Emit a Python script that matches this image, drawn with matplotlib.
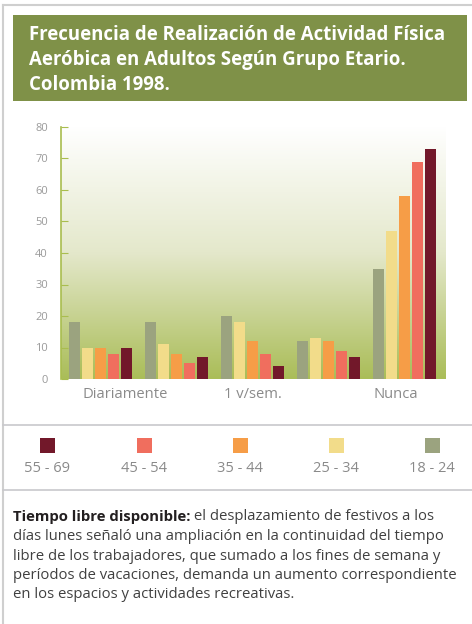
import matplotlib
matplotlib.use("Agg")
import matplotlib.pyplot as plt
import numpy as np
from matplotlib.colors import LinearSegmentedColormap

# datos (porcentaje), 5 grupos de frecuencia
grupos = ["Diariamente", "", "1 v/sem.", "", "Nunca"]
edades = ["18 - 24", "25 - 34", "35 - 44", "45 - 54", "55 - 69"]
v_18_24 = [18, 18, 20, 12, 35]
v_25_34 = [10, 11, 18, 13, 47]
v_35_44 = [10, 8, 12, 12, 58]
v_45_54 = [8, 5, 8, 9, 69]
v_55_69 = [10, 7, 4, 7, 73]
series = [v_18_24, v_25_34, v_35_44, v_45_54, v_55_69]
colores = ["#9BA37F", "#F2DC8A", "#F69D47", "#F06E5E", "#72182A"]
etiquetas_x = ["Diariamente", "1 v/sem.", "Nunca"]
pos_etiquetas = [0.32, 2.0, 3.88]

W, H = 472, 624
fig = plt.figure(figsize=(W / 100, H / 100), dpi=100)
fig.patch.set_facecolor("white")
plt.rcParams["font.family"] = ["Open Sans", "DejaVu Sans"]


def fx(x):
    return x / W


def fy(y):
    return 1 - y / H


# capa de fondo para cuadros y lineas
bg = fig.add_axes([0, 0, 1, 1])
bg.set_xlim(0, W)
bg.set_ylim(H, 0)
bg.axis("off")
bg.plot([3, 3], [5, H], color="#CFCFCF", lw=1.5)
bg.plot([3, W], [5, 5], color="#CFCFCF", lw=1.5)
bg.plot([3, W], [425, 425], color="#C8C8CC", lw=1.2)
bg.plot([3, W], [490, 490], color="#C8C8CC", lw=1.2)
bg.add_patch(plt.Rectangle((13, 15), 454, 86, color="#7F9148", lw=0))

titulo = ["Frecuencia de Realización de Actividad Física",
          "Aeróbica en Adultos Según Grupo Etario.",
          "Colombia 1998."]
for i, linea in enumerate(titulo):
    bg.text(29, 35 + i * 25, linea, color="white", fontsize=13.4, fontweight="bold",
            va="center", ha="left")

# grafico
ax = fig.add_axes([fx(61), fy(379), fx(446) - fx(61), fy(127) - fy(379)])
ax.set_xlim(-0.526, 4.54)
ax.set_ylim(0, 80)

grad = np.linspace(0, 1, 256).reshape(-1, 1)
cmap = LinearSegmentedColormap.from_list("g", ["#FFFFFF", "#E4E8CB", "#AABD58"])
ax.imshow(grad, extent=[-0.526, 4.54, 0, 80], aspect="auto", cmap=cmap, zorder=0,
          origin="upper")

x = np.arange(len(grupos))
paso = 0.171
ancho = 0.145
for i, s in enumerate(series):
    ax.bar(x + (i - 2) * paso, s, width=ancho, color=colores[i], zorder=2)

ax.set_yticks(range(0, 81, 10))
ax.tick_params(axis="y", direction="in", length=5, color="#A9BD4F", labelcolor="#9A9A9A",
               labelsize=8, pad=9.5)
ax.set_xticks(pos_etiquetas)
ax.set_xticklabels(etiquetas_x, color="#8A8A8A", fontsize=10.6)
ax.tick_params(axis="x", length=0, pad=6)
for sp in ["top", "right", "bottom"]:
    ax.spines[sp].set_visible(False)
ax.spines["left"].set_color("#A9BD4F")
ax.spines["left"].set_linewidth(1.2)

# leyenda
orden = [4, 3, 2, 1, 0]
xs_leg = [47, 144, 240, 336, 432]
for xc, k in zip(xs_leg, orden):
    bg.add_patch(plt.Rectangle((xc - 7.5, 438), 15, 15, color=colores[k], lw=0))
    bg.text(xc, 469, edades[k], color="#8A8A8A", fontsize=10.5, ha="center", va="center")

# texto inferior
fs = 10.7
b = bg.text(13, 517, "Tiempo libre disponible:", color="#231F20", fontsize=fs,
            fontweight="bold", ha="left", va="center")
bg.annotate(" el desplazamiento de festivos a los", xy=(1, 0.5), xycoords=b,
            color="#404040", fontsize=fs, ha="left", va="center")
lineas = ["días lunes señaló una ampliación en la continuidad del tiempo",
          "libre de los trabajadores, que sumado a los fines de semana y",
          "períodos de vacaciones, demanda un aumento correspondiente",
          "en los espacios y actividades recreativas."]
for i, l in enumerate(lineas):
    bg.text(13, 536.5 + i * 19.5, l, color="#404040", fontsize=fs, ha="left", va="center")

fig.savefig("out.png", dpi=100)
